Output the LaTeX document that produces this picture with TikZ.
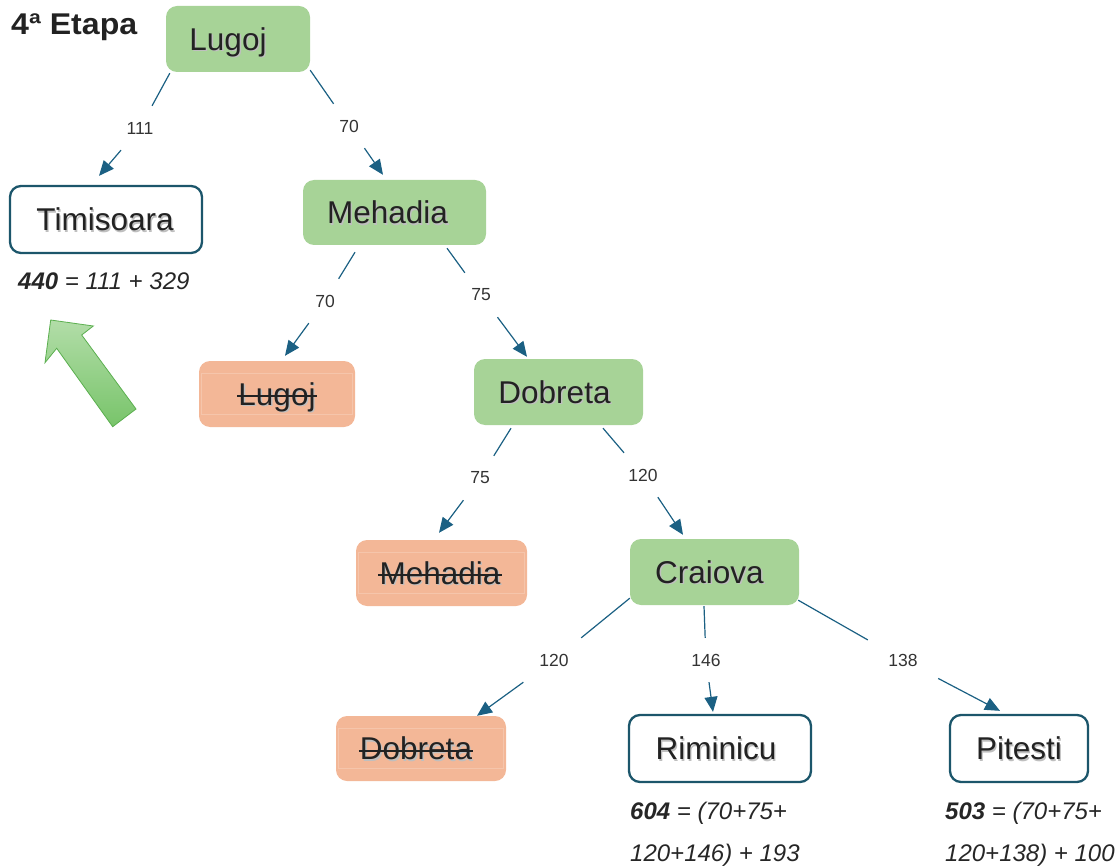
\documentclass[tikz,border=0pt]{standalone}
\usepackage{fontspec}
\setmainfont{Liberation Sans}
\usetikzlibrary{arrows.meta,calc}

\definecolor{nodegreen}{HTML}{A7D397}
\definecolor{nodeorange}{HTML}{F3B797}
\definecolor{goalline}{HTML}{1C566B}
\definecolor{edgeblue}{HTML}{1B6083}
\definecolor{inktext}{HTML}{222222}
\definecolor{arrowlight}{HTML}{B2DDA8}
\definecolor{arrowdark}{HTML}{78C46A}
\definecolor{arrowedge}{HTML}{5BAF4F}

% city name with a soft drop shadow
\newcommand\shtext[1]{\makebox[0pt][l]{\kern1.3pt\raisebox{-1.3pt}{\textcolor{black!25}{#1}}}#1}

% name, box style, centre, width, height, text x-offset, label
\newcommand\citybox[7]{%
  \node[#2, minimum width=#4, minimum height=#5] (#1) at (#3) {};
  \node[citytext] (#1-t) at ($(#1)+(#6,0)$) {\shtext{#7}};
}

\begin{document}
\begin{tikzpicture}[x=1pt,y=-1pt,
  box/.style={rounded corners=11pt, inner sep=0pt},
  green box/.style={box, fill=nodegreen},
  gone box/.style={box, fill=nodeorange},
  goal box/.style={box, fill=white, draw=goalline, line width=2.3pt},
  citytext/.style={inner sep=0pt, font=\fontsize{31.5}{36}\selectfont, text=inktext,
                   text height=22.5pt, text depth=0pt},
  weight/.style={rectangle, minimum width=70pt, minimum height=44pt, inner sep=0pt,
                 font=\fontsize{17.5}{20}\selectfont, text=black!80},
  link/.style={draw=edgeblue, line width=1.2pt},
  arc/.style={link, -{Triangle[length=15pt,width=13pt]}},
  strike/.style={line width=2pt, draw=inktext},
  ghost/.style={draw=white, opacity=.2, line width=.7pt},
  cost/.style={anchor=base west, inner sep=0pt, font=\fontsize{24}{28}\selectfont\itshape,
               text=black!85},
]
\useasboundingbox (0,0) rectangle (1118,866);

% title
\node[anchor=base west, inner sep=0pt, font=\fontsize{30}{34}\selectfont\bfseries,
      text=inktext] (title) at (11,35) {\scalebox{1.07}[1]{4ª Etapa}};

% search tree boxes
\citybox{lugoj}{green box}{238,39}{144pt}{66pt}{-10}{Lugoj}
\citybox{tim}{goal box}{106,219.5}{192pt}{67pt}{-1}{Timisoara}
\citybox{meh}{green box}{394.5,212.5}{183pt}{65pt}{-7}{Mehadia}
\citybox{lugx}{gone box}{277,394}{156pt}{66pt}{0}{Lugoj}
\citybox{dob}{green box}{558.5,392}{169pt}{66pt}{-4}{Dobreta}
\citybox{mehx}{gone box}{441.5,573}{171pt}{66pt}{-1.5}{Mehadia}
\citybox{cra}{green box}{714.5,572}{169pt}{66pt}{-5}{Craiova}
\citybox{dobx}{gone box}{421,748.5}{170pt}{65pt}{-5}{Dobreta}
\citybox{rim}{goal box}{720,748.5}{182pt}{67pt}{-4}{Riminicu}
\citybox{pit}{goal box}{1019,748.5}{138pt}{67pt}{0}{Pitesti}

% revisited cities: faint inner frame and struck-through name
\foreach \c in {lugx,mehx,dobx}{
  \draw[ghost] ($(\c.north west)+(3,13)$) rectangle ($(\c.south east)+(-3,-13)$);
  \draw[strike] ($(\c-t.base west)+(-1,-9)$) -- ($(\c-t.base east)+(1,-9)$);
}

% edge weights
\node[weight] (w1) at (140,128) {111};
\node[weight] (w2) at (349,126) {70};
\node[weight] (w3) at (325,301) {70};
\node[weight] (w4) at (481,295) {75};
\node[weight] (w5) at (480,478) {75};
\node[weight] (w6) at (643,475) {120};
\node[weight] (w7) at (554,660) {120};
\node[weight] (w8) at (706,660) {146};
\node[weight] (w9) at (903,660) {138};

% edges: parent -- weight -> child
\draw[link] ($(lugoj.south west)+(4,1)$) -- (w1);
\draw[arc] (w1) -- ($(tim.north)+(-7,-9)$);
\draw[link] ($(lugoj.south east)+(0,-2)$) -- (w2);
\draw[arc] (w2) -- ($(meh.north)+(-11.5,-5)$);
\draw[link] ($(meh.south)+(-39.5,7)$) -- (w3);
\draw[arc] (w3) -- ($(lugx.north)+(8,-5)$);
\draw[link] ($(meh.south)+(52.5,3)$) -- (w4);
\draw[arc] (w4) -- ($(dob.north)+(-31.5,-2)$);
\draw[link] ($(dob.south)+(-47.5,3)$) -- (w5);
\draw[arc] (w5) -- ($(mehx.north)+(-2.5,-7)$);
\draw[link] ($(dob.south)+(44.5,3)$) -- (w6);
\draw[arc] (w6) -- ($(cra.north)+(-31.5,-4)$);
\draw[link] ($(cra.south west)+(0,-7)$) -- (w7);
\draw[arc] (w7) -- ($(dobx.north)+(56,0)$);
\draw[link] ($(cra.south)+(-10.5,1)$) -- (w8);
\draw[arc] (w8) -- ($(rim.north)+(-7,-2)$);
\draw[link] ($(cra.south east)+(-1,-5)$) -- (w9);
\draw[arc] (w9) -- ($(pit.north)+(-19,-3)$);

% cost estimates
\node[cost] (timcost) at (18,290) {\textbf{440} = 111 + 329};
\node[cost] (rimcost1) at (630,819) {\textbf{604} = (70+75+};
\node[cost] (rimcost2) at (630,861) {120+146) + 193};
\node[cost] (pitcost1) at (945,819) {\textbf{503} = (70+75+};
\node[cost] (pitcost2) at (945,861) {120+138) + 100};

% big arrow pointing at the chosen leaf
\shadedraw[draw=arrowedge, top color=arrowlight, bottom color=arrowdark, line width=.8pt]
  (50.7,320) -- (93.3,326) -- (81.7,335) -- (136,409) -- (112.7,426.7)
  -- (56.7,348.3) -- (45,362.7) -- cycle;
\end{tikzpicture}
\end{document}
